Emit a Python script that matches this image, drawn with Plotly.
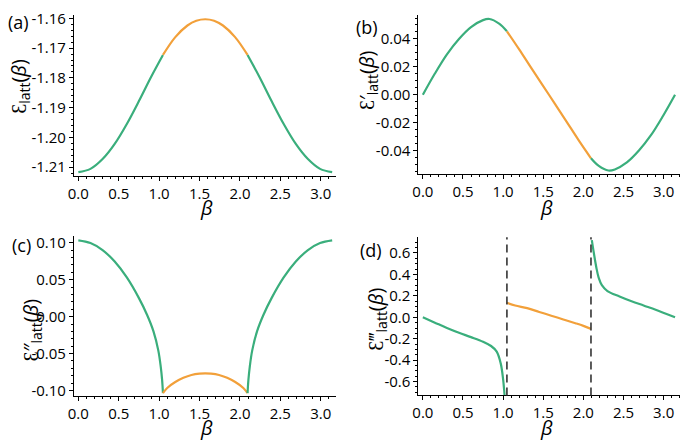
import plotly.graph_objects as go

W, H = 685, 443

# ---------------- data ----------------
# (a) E_latt(beta)
a_green1_x = [0.0, 0.15, 0.3, 0.45, 0.6, 0.75, 0.9, 1.0472]
a_green1_y = [-1.2117, -1.2106, -1.2073, -1.2022, -1.1955, -1.1878, -1.1797, -1.1723]
a_orange_x = [1.0472, 1.2, 1.35, 1.46, 1.5708, 1.68, 1.79, 1.94, 2.0944]
a_orange_y = [-1.1723, -1.1663, -1.1624, -1.1608, -1.1603, -1.1608, -1.1624, -1.1663, -1.1723]
a_green2_x = [2.0944, 2.2416, 2.3916, 2.5416, 2.6916, 2.8416, 2.9916, 3.1416]
a_green2_y = [-1.1723, -1.1797, -1.1878, -1.1955, -1.2022, -1.2073, -1.2106, -1.2117]

# (b) E'_latt(beta)
b_green1_x = [0.0, 0.15, 0.3, 0.45, 0.6, 0.75, 0.83, 0.95, 1.0472]
b_green1_y = [0.0, 0.0152, 0.0290, 0.0400, 0.0485, 0.0535, 0.0543, 0.0510, 0.0455]
b_orange_x = [1.0472, 1.2, 1.35, 1.5708, 1.79, 1.94, 2.0944]
b_orange_y = [0.0455, 0.0325, 0.0192, 0.0, -0.0192, -0.0325, -0.0455]
b_green2_x = [2.0944, 2.1916, 2.3116, 2.3916, 2.5416, 2.6916, 2.8416, 2.9916, 3.1416]
b_green2_y = [-0.0455, -0.0510, -0.0543, -0.0535, -0.0485, -0.0400, -0.0290, -0.0152, 0.0]

# (c) E''_latt(beta)
c_green1_x = [0.0, 0.15, 0.3, 0.45, 0.6, 0.75, 0.85, 0.93, 0.99, 1.02, 1.037, 1.0472]
c_green1_y = [0.1032, 0.0995, 0.0900, 0.0745, 0.0530, 0.0250, 0.0025, -0.0200, -0.0460, -0.0680, -0.0860, -0.1035]
c_orange_x = [1.0472, 1.1, 1.2, 1.3, 1.4, 1.5, 1.5708, 1.6416, 1.7416, 1.8416, 1.9416, 2.0416, 2.0944]
c_orange_y = [-0.1035, -0.0965, -0.0885, -0.0828, -0.0789, -0.0771, -0.0768, -0.0771, -0.0789, -0.0828, -0.0885, -0.0965, -0.1035]
c_green2_x = [2.0944, 2.1046, 2.1216, 2.1516, 2.2116, 2.2916, 2.3916, 2.5416, 2.6916, 2.8416, 2.9916, 3.1416]
c_green2_y = [-0.1035, -0.0860, -0.0680, -0.0460, -0.0200, 0.0025, 0.0250, 0.0530, 0.0745, 0.0900, 0.0995, 0.1032]

# (d) E'''_latt(beta)
d_green1_x = [0.0, 0.15, 0.3, 0.45, 0.6, 0.75, 0.85, 0.92, 0.97, 1.0, 1.025]
d_green1_y = [0.0, -0.050, -0.100, -0.145, -0.185, -0.228, -0.268, -0.320, -0.430, -0.580, -0.800]
d_orange_x = [1.0472, 1.15, 1.3, 1.45, 1.6, 1.75, 1.9, 2.0, 2.0944]
d_orange_y = [0.135, 0.110, 0.085, 0.050, 0.015, -0.020, -0.055, -0.080, -0.108]
d_green2_x = [2.105, 2.13, 2.16, 2.19, 2.23, 2.3, 2.45, 2.6, 2.75, 2.9, 3.02, 3.1416]
d_green2_y = [0.72, 0.60, 0.47, 0.37, 0.30, 0.245, 0.195, 0.150, 0.110, 0.070, 0.035, 0.0]
d_asymptotes = [1.0472, 2.0944]

x_ticks = [0.0, 0.5, 1.0, 1.5, 2.0, 2.5, 3.0]
x_ticktext = ["0.0", "0.5", "1.0", "1.5", "2.0", "2.5", "3.0"]
a_ticks = [-1.21, -1.20, -1.19, -1.18, -1.17, -1.16]
a_ticktext = ["-1.21", "-1.20", "-1.19", "-1.18", "-1.17", "-1.16"]
b_ticks = [-0.04, -0.02, 0.0, 0.02, 0.04]
b_ticktext = ["-0.04", "-0.02", "0.00", "0.02", "0.04"]
c_ticks = [-0.10, -0.05, 0.0, 0.05, 0.10]
c_ticktext = ["-0.10", "-0.05", "0.00", "0.05", "0.10"]
d_ticks = [-0.6, -0.4, -0.2, 0.0, 0.2, 0.4, 0.6]
d_ticktext = ["-0.6", "-0.4", "-0.2", "0.0", "0.2", "0.4", "0.6"]

GREEN = "#3aae7c"
ORANGE = "#f2a03a"
FONT = "Open Sans"

fig = go.Figure()

def add_curve(x, y, color, ax):
    fig.add_trace(go.Scatter(x=x, y=y, mode="lines", line=dict(color=color, width=2.2, shape="spline", smoothing=1.0),
                             xaxis="x" + ax, yaxis="y" + ax, showlegend=False, hoverinfo="skip"))

for ax, segs in [("", [(a_green1_x, a_green1_y, GREEN), (a_orange_x, a_orange_y, ORANGE), (a_green2_x, a_green2_y, GREEN)]),
                 ("2", [(b_green1_x, b_green1_y, GREEN), (b_orange_x, b_orange_y, ORANGE), (b_green2_x, b_green2_y, GREEN)]),
                 ("3", [(c_green1_x, c_green1_y, GREEN), (c_orange_x, c_orange_y, ORANGE), (c_green2_x, c_green2_y, GREEN)]),
                 ("4", [(d_green1_x, d_green1_y, GREEN), (d_orange_x, d_orange_y, ORANGE), (d_green2_x, d_green2_y, GREEN)])]:
    for x, y, c in segs:
        add_curve(x, y, c, ax)

# dashed asymptotes in (d)
for xv in d_asymptotes:
    fig.add_shape(type="line", xref="x4", yref="y4 domain", x0=xv, x1=xv, y0=0, y1=1,
                  line=dict(color="#333333", width=1.6, dash="8px,5px"))

def px_x(p):
    return p / W

def px_y(p):
    return 1 - p / H

TF = dict(family=FONT, size=15, color="black")

def xaxis(domain, rng, anchor):
    return dict(domain=domain, range=rng, anchor=anchor, showline=True, linecolor="black", linewidth=1,
                ticks="outside", ticklen=4, tickwidth=1, tickcolor="black",
                tickvals=x_ticks, ticktext=x_ticktext, showgrid=False, zeroline=False,
                minor=dict(ticks="outside", ticklen=2, tickwidth=1, tickcolor="black", dtick=0.1, showgrid=False),
                tickfont=TF)

def yaxis(domain, rng, anchor, tv, tt, mdt):
    return dict(domain=domain, range=rng, anchor=anchor, showline=True, linecolor="black", linewidth=1,
                ticks="outside", ticklen=4, tickwidth=1, tickcolor="black",
                tickvals=tv, ticktext=tt, showgrid=False, zeroline=False,
                minor=dict(ticks="outside", ticklen=2, tickwidth=1, tickcolor="black", dtick=mdt, showgrid=False),
                tickfont=TF)

xl = [px_x(68.5), px_x(333)]
xr = [px_x(416), px_x(680)]

fig.update_layout(
    width=W, height=H, margin=dict(l=0, r=0, t=0, b=0),
    paper_bgcolor="white", plot_bgcolor="white",
    xaxis=xaxis(xl, [-0.055, 3.19], "y"),
    yaxis=yaxis([px_y(173), px_y(8)], [-1.2129, -1.1588], "x", a_ticks, a_ticktext, 0.002),
    xaxis2=xaxis(xr, [-0.056, 3.204], "y2"),
    yaxis2=yaxis([px_y(171.7), px_y(8)], [-0.0571, 0.0573], "x2", b_ticks, b_ticktext, 0.005),
    xaxis3=xaxis(xl, [-0.055, 3.19], "y3"),
    yaxis3=yaxis([px_y(399), px_y(235)], [-0.1075, 0.1088], "x3", c_ticks, c_ticktext, 0.01),
    xaxis4=xaxis(xr, [-0.056, 3.204], "y4"),
    yaxis4=yaxis([px_y(398.3), px_y(236)], [-0.729, 0.748], "x4", d_ticks, d_ticktext, 0.05),
)

annots = []
def ann(text, x, y, size=17, angle=0):
    annots.append(dict(text=text, x=px_x(x), y=px_y(y), xref="paper", yref="paper", showarrow=False,
                       xanchor="center", yanchor="middle", textangle=angle,
                       font=dict(family=FONT, size=size, color="black")))

# panel letters
ann("(a)", 13, 15, size=18)
ann("(b)", 364, 21, size=18)
ann("(c)", 16, 244, size=18)
ann("(d)", 368, 249, size=18)
# x titles
for x0, y0 in [(202, 206), (545, 206), (202, 431), (545, 431)]:
    ann("<i>β</i>", x0, y0, size=20)
# y titles (script E drawn with the open-E letter)
E = "Ɛ"
ann(E + "<sub>latt</sub>(<i>β</i>)", 14, 81, size=20, angle=-90)
ann(E + "′<sub>latt</sub>(<i>β</i>)", 364, 75, size=20, angle=-90)
ann(E + "″<sub>latt</sub>(<i>β</i>)", 26, 331, size=20, angle=-90)
ann(E + "‴<sub>latt</sub>(<i>β</i>)", 373, 320, size=20, angle=-90)
fig.update_layout(annotations=annots)

fig.write_html("out.html", config={"displayModeBar": False},
               post_script="document.body.style.margin='0';")
